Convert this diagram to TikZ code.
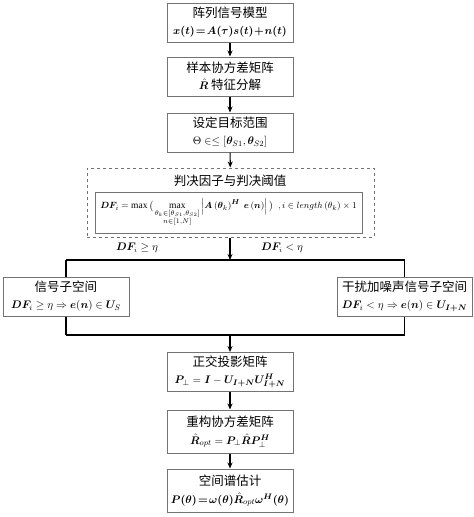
\documentclass[tikz,border=0pt]{standalone}
\usepackage{amsmath}
\usepackage{bm}
\usepackage{fontspec}
\setmainfont{Liberation Serif}
\newfontfamily\cjk{Noto Sans CJK SC}
\newcommand\zh[1]{{\cjk\fontsize{12.5}{16}\selectfont #1}}
\usetikzlibrary{arrows.meta}
\begin{document}
\begin{tikzpicture}[x=1pt,y=-1pt,
  box/.style={draw=black!55, line width=1pt, fill=white, align=center, inner sep=0pt,
    minimum width=126pt, minimum height=39pt, font=\fontsize{11}{17}\selectfont},
  conn/.style={line width=1.1pt, black},
  arr/.style={conn, -{Stealth[length=6pt,width=5pt]}},
  lab/.style={font=\fontsize{10.5}{13}\selectfont, inner sep=1pt}]
\useasboundingbox (0,0) rectangle (474,517);
% boxes
\node[box] (b1) at (230,22.5) {\zh{阵列信号模型}\\$\bm{x(t)\!=\!A(\tau)s(t)\!+\!n(t)}$};
\node[box] (b2) at (230,76.5) {\zh{样本协方差矩阵}\\$\hat{\bm R}$ \zh{特征分解}};
\node[box] (b3) at (230,132.5) {\zh{设定目标范围}\\$\Theta\in\le\left[\bm\theta_{S1},\bm\theta_{S2}\right]$};
% dashed group
\node[draw=black!55, dashed, line width=1pt, minimum width=287pt, minimum height=69pt, inner sep=0pt] (grp) at (230.5,202.5) {};
\node[inner sep=0pt] (gt) at (230,181) {\zh{判决因子与判决阈值}};
\node[box, minimum width=267pt, minimum height=41pt, font=\fontsize{9.5}{12}\selectfont] (inner) at (228.5,212.5)
  {$\bm{DF}_i=\max\big(\max\limits_{\substack{\theta_k\in[\theta_{S1},\theta_{S2}]\\ n\in[1,N]}}\left|\bm A\left(\bm\theta_k\right)^{\bm H}\ \bm e\left(\bm n\right)\right|\big)\ \ ,i\in length\left(\theta_k\right)\times 1$};
% split
\coordinate (sp) at (230,260);
\coordinate (spl) at (66,260);
\coordinate (spr) at (404.5,260);
\node[box] (ls) at (66,296.5) {\zh{信号子空间}\\$\bm{DF}_i\ge\eta\Rightarrow\bm e(\bm n)\in\bm U_S$};
\node[box, minimum width=135pt] (rs) at (404.5,296.5) {\zh{干扰加噪声信号子空间}\\$\bm{DF}_i<\eta\Rightarrow\bm e(\bm n)\in\bm U_{\bm{I+N}}$};
\node[lab] (l1) at (137,248) {$\bm{DF}_i\ge\eta$};
\node[lab] (l2) at (282,248) {$\bm{DF}_i<\eta$};
% merge
\coordinate (mg) at (230,335);
\coordinate (mgl) at (66,335);
\coordinate (mgr) at (404.5,335);
\node[box] (b4) at (230,372) {\zh{正交投影矩阵}\\$\bm P_\perp=\bm I-\bm U_{\bm{I+N}}\bm U_{\bm{I+N}}^{\bm H}$};
\node[box, minimum height=43pt] (b5) at (230,431.5) {\zh{重构协方差矩阵}\\[1pt]$\hat{\bm R}_{opt}=\bm P_\perp\hat{\bm R}\bm P_\perp^{\bm H}$};
\node[box, minimum height=43pt] (b6) at (230,490.5) {\zh{空间谱估计}\\[1pt]$\bm{P(\theta)\!=\!\omega(\theta)}\hat{\bm R}_{opt}\bm{\omega}^{\bm H}\bm{(\theta)}$};
% connectors
\draw[arr] (b1) -- (b2);
\draw[arr] (b2) -- (b3);
\draw[arr] (b3) -- (grp);
\draw[arr] (grp.south -| sp) -- (sp);
\draw[conn] (spl) -- (spr);
\draw[conn] (spl) -- (ls.north);
\draw[conn] (spr) -- (rs.north);
\draw[conn] (ls.south) -- (mgl);
\draw[conn] (rs.south) -- (mgr);
\draw[conn] (mgl) -- (mgr);
\draw[arr] (mg) -- (b4);
\draw[arr] (b4) -- (b5);
\draw[arr] (b5) -- (b6);
\end{tikzpicture}
\end{document}
